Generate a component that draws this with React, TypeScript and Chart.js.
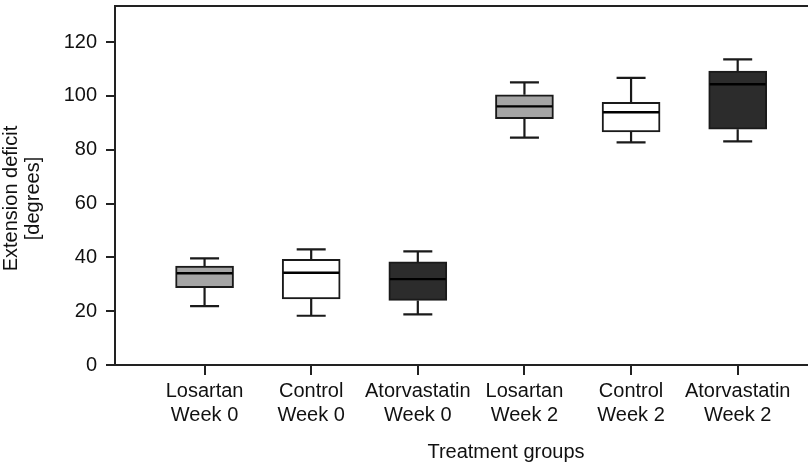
import { useEffect, useRef } from "react";
import { Chart, registerables } from "chart.js";

Chart.register(...registerables);

// ---- data ----
const categories: string[][] = [
  ["Losartan", "Week 0"],
  ["Control", "Week 0"],
  ["Atorvastatin", "Week 0"],
  ["Losartan", "Week 2"],
  ["Control", "Week 2"],
  ["Atorvastatin", "Week 2"],
];
const whiskerLow = [21.9, 18.3, 18.8, 84.5, 82.7, 83.1];
const q1 = [28.7, 24.6, 24.0, 91.5, 86.6, 87.6];
const median = [34.1, 34.3, 31.9, 96.1, 93.9, 104.3];
const q3 = [36.8, 39.3, 38.3, 100.4, 97.6, 109.2];
const whiskerHigh = [39.6, 43.0, 42.2, 105.0, 106.7, 113.6];
const boxColors = ["#a5a5a5", "#ffffff", "#2c2c2c", "#a5a5a5", "#ffffff", "#2c2c2c"];
const yTicks = [0, 20, 40, 60, 80, 100, 120];
const yTitle = ["Extension deficit", "[degrees]"];
const xTitle = "Treatment groups";

const FONT = "'Liberation Sans', Arial, Helvetica, sans-serif";
const INK = "#1a1a1a";

const boxParts = {
  id: "boxParts",
  beforeDatasetsDraw(chart: any) {
    const meta = chart.getDatasetMeta(0);
    const y = chart.scales.y;
    const ctx = chart.ctx;
    ctx.save();
    ctx.strokeStyle = INK;
    ctx.lineWidth = 2.2;
    meta.data.forEach((bar: any, i: number) => {
      const x = bar.x;
      const capHalf = bar.width / 4;
      const yHi = y.getPixelForValue(whiskerHigh[i]);
      const yLo = y.getPixelForValue(whiskerLow[i]);
      ctx.beginPath();
      ctx.moveTo(x, yHi);
      ctx.lineTo(x, y.getPixelForValue(q3[i]));
      ctx.moveTo(x, y.getPixelForValue(q1[i]));
      ctx.lineTo(x, yLo);
      ctx.moveTo(x - capHalf, yHi);
      ctx.lineTo(x + capHalf, yHi);
      ctx.moveTo(x - capHalf, yLo);
      ctx.lineTo(x + capHalf, yLo);
      ctx.stroke();
    });
    ctx.restore();
  },
  afterDatasetsDraw(chart: any) {
    const meta = chart.getDatasetMeta(0);
    const y = chart.scales.y;
    const ctx = chart.ctx;
    ctx.save();
    ctx.strokeStyle = "#000";
    ctx.lineWidth = 2.4;
    meta.data.forEach((bar: any, i: number) => {
      const half = bar.width / 2;
      const ym = y.getPixelForValue(median[i]);
      ctx.beginPath();
      ctx.moveTo(bar.x - half + 1, ym);
      ctx.lineTo(bar.x + half - 1, ym);
      ctx.stroke();
    });
    ctx.restore();
  },
  afterDraw(chart: any) {
    const ctx = chart.ctx;
    const area = chart.chartArea;
    ctx.save();
    ctx.fillStyle = "#111";
    ctx.font = `20px ${FONT}`;
    ctx.textAlign = "center";
    ctx.textBaseline = "alphabetic";
    // x title
    ctx.fillText(xTitle, area.left + (area.right - area.left) * 0.565, chart.height - 7.5);
    // y title (rotated)
    const cy = (area.top + area.bottom) / 2 + 13;
    yTitle.forEach((line, k) => {
      ctx.save();
      ctx.translate(17 + k * 22, cy);
      ctx.rotate(-Math.PI / 2);
      ctx.fillText(line, 0, 0);
      ctx.restore();
    });
    ctx.restore();
  },
};

export default function App() {
  const ref = useRef<HTMLCanvasElement | null>(null);

  useEffect(() => {
    document.body.style.margin = "0";
    const canvas = ref.current;
    if (!canvas) return;
    const chart = new Chart(canvas, {
      type: "bar",
      data: {
        datasets: [
          {
            data: categories.map((_, i) => ({ x: i + 1, y: [q1[i], q3[i]] })) as any,
            backgroundColor: boxColors,
            borderColor: INK,
            borderWidth: 2,
            borderSkipped: false,
            barThickness: 58,
          },
        ],
      },
      options: {
        animation: false,
        responsive: true,
        maintainAspectRatio: false,
        layout: { padding: { left: 0, right: 3, top: 6, bottom: 0 } },
        plugins: { legend: { display: false }, tooltip: { enabled: false } },
        scales: {
          x: {
            type: "linear",
            position: "bottom",
            min: 0.16,
            max: 6.65,
            offset: false,
            afterBuildTicks: (axis: any) => {
              axis.ticks = categories.map((_, i) => ({ value: i + 1 }));
            },
            afterFit: (scale: any) => {
              scale.height = 100;
              scale.paddingLeft = 0;
              scale.paddingRight = 0;
            },
            ticks: {
              autoSkip: false,
              maxRotation: 0,
              padding: 4,
              color: "#111",
              font: { family: FONT, size: 20, lineHeight: 1.2 },
              callback: (value: any) => categories[Number(value) - 1] ?? "",
            },
            grid: {
              display: true,
              offset: false,
              drawOnChartArea: false,
              drawTicks: true,
              tickLength: 10,
              color: "#222",
              lineWidth: 2,
            },
            border: { display: true, color: "#222", width: 2 },
          },
          x2: {
            type: "linear",
            position: "top",
            display: true,
            ticks: { display: false },
            grid: { display: false },
            border: { display: true, color: "#222", width: 2 },
            afterFit: (scale: any) => {
              scale.height = 0;
              scale.paddingLeft = 0;
              scale.paddingRight = 0;
            },
          },
          y: {
            type: "linear",
            min: 0,
            max: 133.4,
            afterBuildTicks: (axis: any) => {
              axis.ticks = yTicks.map((v) => ({ value: v }));
            },
            afterFit: (scale: any) => {
              scale.width = 115;
              scale.paddingTop = 0;
              scale.paddingBottom = 0;
            },
            ticks: {
              padding: 9,
              color: "#111",
              font: { family: FONT, size: 20 },
            },
            grid: {
              display: true,
              drawOnChartArea: false,
              drawTicks: true,
              tickLength: 9,
              color: "#222",
              lineWidth: 2,
            },
            border: { display: true, color: "#222", width: 2 },
          },
        },
      },
      plugins: [boxParts],
    });
    return () => chart.destroy();
  }, []);

  return (
    <div style={{ position: "relative", width: 810, height: 465, background: "#fff" }}>
      <canvas ref={ref} />
    </div>
  );
}
